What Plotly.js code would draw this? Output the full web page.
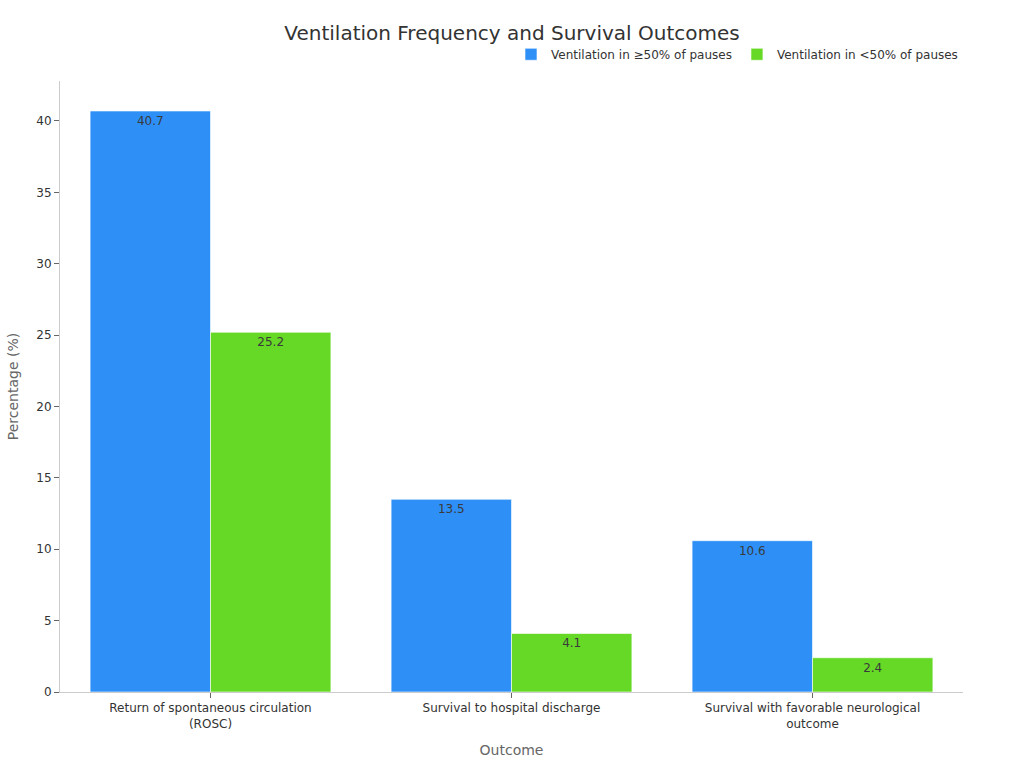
<!DOCTYPE html>
<html>
<head>
<meta charset="utf-8">
<script src="https://cdn.plot.ly/plotly-3.0.1.min.js"></script>
<style>html,body{margin:0;padding:0;background:#fff;}#chart{width:1024px;height:768px;}</style>
</head>
<body>
<div id="chart"></div>
<script>
var categories = ["Return of spontaneous circulation<br>(ROSC)", "Survival to hospital discharge", "Survival with favorable neurological<br>outcome"];
var seriesNames = ["Ventilation in \u226550% of pauses", "Ventilation in <50% of pauses"];
var highValues = [40.7, 13.5, 10.6];
var lowValues = [25.2, 4.1, 2.4];
var colors = ["#2E90F7", "#66D926"];

function mk(name, vals, color) {
  return {
    type: 'bar', name: name, x: categories, y: vals,
    text: vals.map(function(v){return v.toFixed(1);}),
    textposition: 'inside', insidetextanchor: 'end',
    textfont: {color: '#3a3a3a', size: 12},
    marker: {color: color, line: {color: 'rgba(255,255,255,0.6)', width: 1}},
    hoverinfo: 'x+y'
  };
}
var data = [mk(seriesNames[0], highValues, colors[0]), mk(seriesNames[1], lowValues, colors[1])];
var layout = {
  width: 1024, height: 768,
  font: {family: 'DejaVu Sans, sans-serif', color: '#333', size: 12},
  paper_bgcolor: '#fff', plot_bgcolor: '#fff',
  margin: {l: 60, r: 61, t: 81, b: 76},
  title: {text: 'Ventilation Frequency and Survival Outcomes', x: 0.5, xanchor: 'center', y: 0.957, yanchor: 'middle', font: {size: 20, color: '#333'}},
  barmode: 'group', bargap: 0.2, bargroupgap: 0,
  showlegend: true,
  legend: {orientation: 'h', x: 1, xanchor: 'right', y: 1.02, yanchor: 'bottom', font: {size: 12, color: '#333'}},
  xaxis: {
    title: {text: 'Outcome', font: {size: 14, color: '#666'}, standoff: 15},
    showline: true, linecolor: '#ccc', ticks: 'outside', ticklen: 5, tickcolor: '#666',
    showgrid: false, tickfont: {size: 12, color: '#333'}
  },
  yaxis: {
    title: {text: 'Percentage (%)', font: {size: 14, color: '#666'}, standoff: 14},
    range: [0, 42.8], dtick: 5,
    showline: true, linecolor: '#ccc', ticks: 'outside', ticklen: 5, tickcolor: '#666',
    showgrid: false, zeroline: false, tickfont: {size: 12, color: '#333'}
  }
};
Plotly.newPlot('chart', data, layout, {displayModeBar: false});
</script>
</body>
</html>
